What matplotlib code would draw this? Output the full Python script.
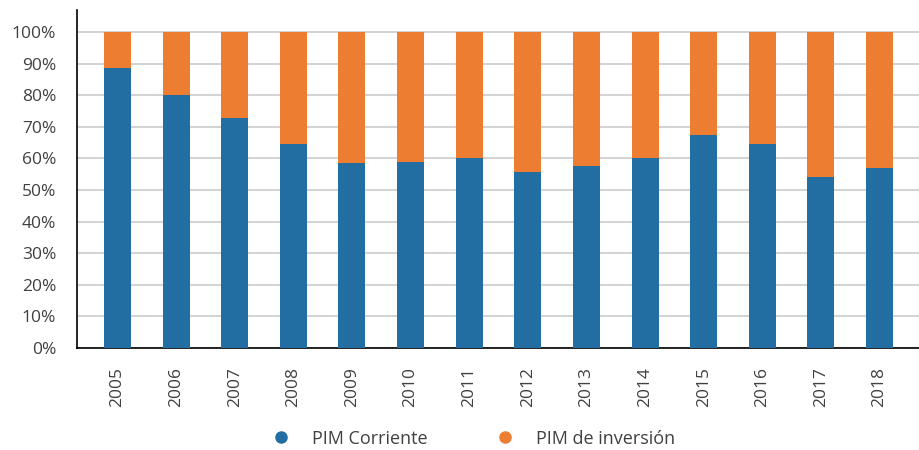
import matplotlib.pyplot as plt
from matplotlib.ticker import PercentFormatter
from matplotlib.lines import Line2D
import numpy as np

years = ["2005", "2006", "2007", "2008", "2009", "2010", "2011",
         "2012", "2013", "2014", "2015", "2016", "2017", "2018"]
pim_corriente = [88.7, 80.1, 72.9, 64.6, 58.5, 58.9, 60.2,
                 55.6, 57.7, 60.2, 67.4, 64.6, 54.1, 57.1]
pim_inversion = [100 - v for v in pim_corriente]

BLUE = "#226EA3"
ORANGE = "#ED7D31"
TEXT = "#404040"

plt.rcParams["font.family"] = ["Open Sans", "DejaVu Sans"]

fig = plt.figure(figsize=(9.2, 4.5), dpi=100)
ax = fig.add_axes([0.0837, 0.2267, 0.9163, 0.7513])

x = np.arange(len(years))
ax.bar(x, pim_corriente, width=0.46, color=BLUE, zorder=3)
ax.bar(x, pim_inversion, width=0.46, bottom=pim_corriente, color=ORANGE, zorder=3)

ax.set_xlim(-0.69, len(years) - 1 + 0.69)
ax.set_ylim(0, 107)
ax.set_yticks(np.arange(0, 101, 10))
ax.yaxis.set_major_formatter(PercentFormatter(decimals=0))
ax.set_xticks(x)
ax.set_xticklabels(years, rotation=90)
ax.tick_params(axis="both", length=0, labelsize=12.5, colors=TEXT)
ax.tick_params(axis="x", pad=14)
ax.tick_params(axis="y", pad=15)

ax.grid(axis="y", color="#D4D4D4", linewidth=1.5, zorder=0)
for side in ["top", "right"]:
    ax.spines[side].set_visible(False)
ax.spines["left"].set_color("black")
ax.spines["bottom"].set_color("black")
ax.spines["left"].set_linewidth(1.2)
ax.spines["bottom"].set_linewidth(1.2)

handles = [
    Line2D([], [], marker="o", linestyle="none", color=BLUE, markersize=8, label="PIM Corriente"),
    Line2D([], [], marker="o", linestyle="none", color=ORANGE, markersize=8, label="PIM de inversión"),
]
fig.legend(handles=handles, loc="center", bbox_to_anchor=(0.51, 0.025), ncol=2,
           frameon=False, fontsize=13, labelcolor=TEXT, columnspacing=3.3, handletextpad=0.7)

fig.savefig("out.png", dpi=100)
